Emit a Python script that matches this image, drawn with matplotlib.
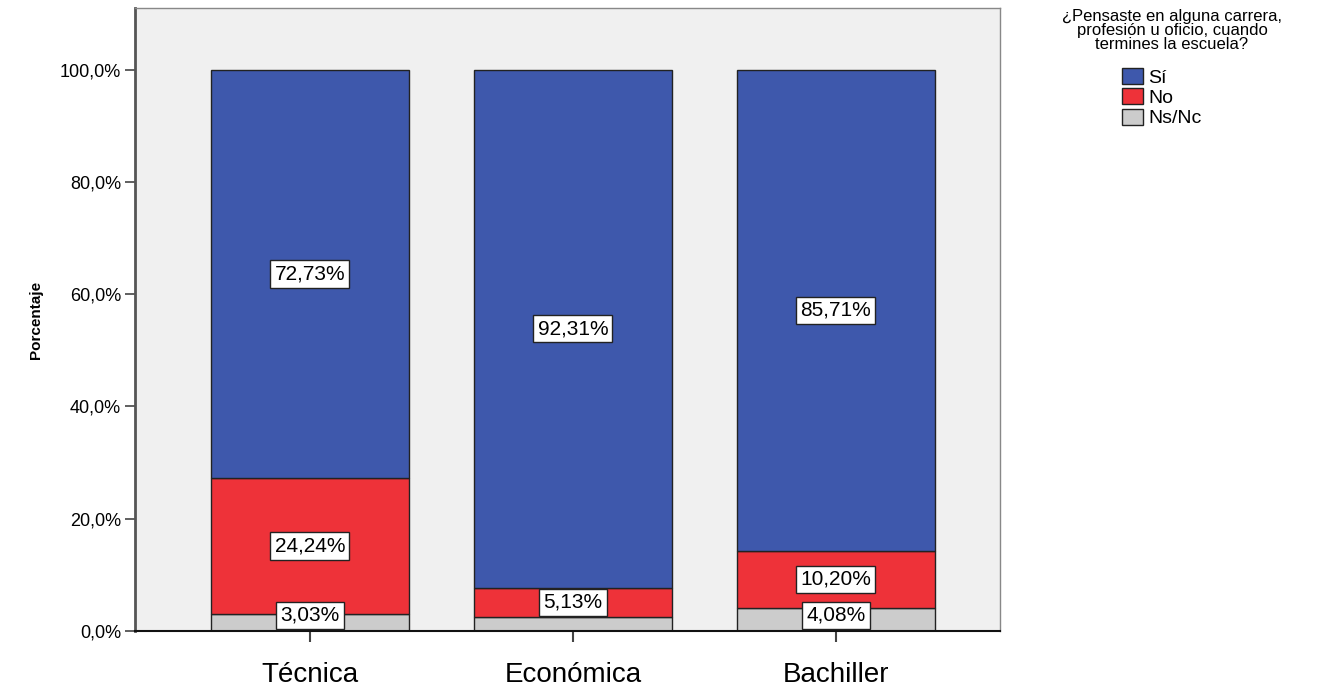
import matplotlib
matplotlib.use("Agg")
import matplotlib.pyplot as plt
from matplotlib.patches import Patch
import numpy as np

categories = ["Técnica", "Económica", "Bachiller"]
si = [72.73, 92.31, 85.71]
no = [24.24, 5.13, 10.20]
nsnc = [3.03, 2.56, 4.08]
show_label_nsnc = [True, False, True]
series_names = ["Sí", "No", "Ns/Nc"]
yticks = [0, 20, 40, 60, 80, 100]
legend_title = "¿Pensaste en alguna carrera,\nprofesión u oficio, cuando\ntermines la escuela?"

colors = ["#3E58AC", "#EE3239", "#CCCCCC"]

plt.rcParams['font.family'] = ['Liberation Sans', 'DejaVu Sans']

fig = plt.figure(figsize=(13.28, 6.92), dpi=100)
ax = fig.add_axes([135/1328, 1-631/692, (1000-135)/1328, (631-8)/692])
ax.set_facecolor("#F0F0F0")

x = np.arange(len(categories))
w = 0.753
bottoms = np.zeros(len(categories))
data = [nsnc, no, si]
cols = [colors[2], colors[1], colors[0]]
for vals, c in zip(data, cols):
    ax.bar(x, vals, w, bottom=bottoms, color=c, edgecolor="#222222", linewidth=1.0, zorder=2)
    bottoms = bottoms + np.array(vals)

def lab(xi, y, v):
    ax.text(xi, y, f"{v:.2f}%".replace(".", ","), ha="center", va="center", fontsize=15,
            bbox=dict(boxstyle="square,pad=0.2", fc="white", ec="#222222", lw=1.0), zorder=4)

for i in range(len(categories)):
    lab(x[i], nsnc[i] + no[i] + si[i] / 2, si[i])
    lab(x[i], max(nsnc[i] + no[i] / 2, 4.7), no[i])
    if show_label_nsnc[i]:
        lab(x[i], max(nsnc[i] / 2, 2.8), nsnc[i])

ax.set_xlim(-0.665, 2.624)
ax.set_ylim(0, 111)
ax.set_yticks(yticks)
ax.set_yticklabels([f"{t:.1f}%".replace(".", ",") for t in yticks], fontsize=13)
ax.set_xticks(x)
ax.set_xticklabels(categories, fontsize=20)
ax.tick_params(axis="x", length=8, width=1.5, color="#444444", pad=14)
ax.tick_params(axis="y", length=7, width=1.2, color="#444444", pad=3)

ax.spines["left"].set_color("#555555")
ax.spines["left"].set_linewidth(2)
ax.spines["bottom"].set_color("#111111")
ax.spines["bottom"].set_linewidth(1.5)
for s in ["top", "right"]:
    ax.spines[s].set_color("#888888")
    ax.spines[s].set_linewidth(1.0)

ax.set_ylabel("Porcentaje", fontsize=11, fontweight="bold",
              family=["Liberation Sans Narrow", "Liberation Sans", "DejaVu Sans"], labelpad=12)

fig.text(1172/1328, 1-9/692, legend_title, ha="center", va="top", fontsize=12,
         linespacing=0.92, multialignment="center")

handles = [Patch(facecolor=colors[i], edgecolor="#222222", label=series_names[i]) for i in range(3)]
leg = fig.legend(handles=handles, loc="upper left",
                 bbox_to_anchor=(1122/1328, 1-68/692), frameon=False, fontsize=14,
                 handlelength=1.1, handleheight=0.9,
                 handletextpad=0.25, labelspacing=0.08, borderpad=0.0, borderaxespad=0.0)

fig.savefig("out.png", dpi=100)
